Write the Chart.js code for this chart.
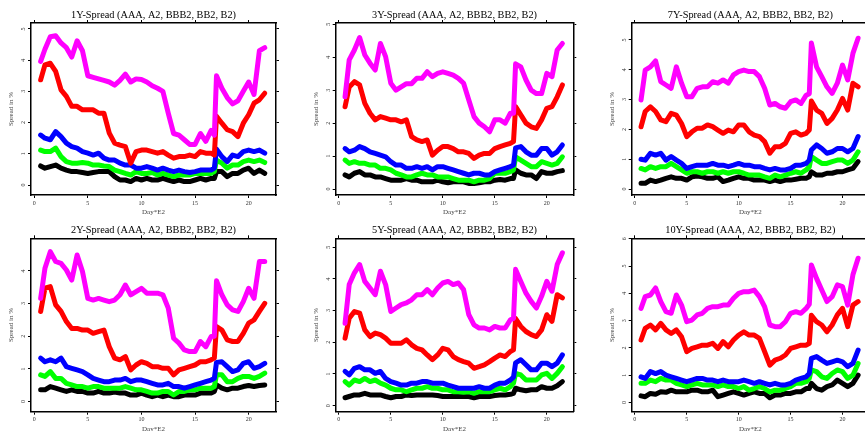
<!DOCTYPE html>
<html>
<head>
<meta charset="utf-8">
<title>Spreads AAA, A2, BBB2, BB2, B2</title>
<script src="https://cdn.jsdelivr.net/npm/chart.js"></script>
<style>
  body { margin: 0; width: 865px; height: 431px; overflow: hidden; background: #fff; position: relative; }
  canvas { position: absolute; }
</style>
</head>
<body>
<canvas id="c1Y"></canvas>
<canvas id="c3Y"></canvas>
<canvas id="c7Y"></canvas>
<canvas id="c2Y"></canvas>
<canvas id="c5Y"></canvas>
<canvas id="c10Y"></canvas>
<script>
// x = Day*E2
const days = [0.6, 1, 1.5, 2, 2.5, 3, 3.5, 4, 4.5, 5, 5.5, 6, 6.5, 7, 7.5, 8, 8.5, 9, 9.5, 10, 10.5,
  11, 11.5, 12, 12.5, 13, 13.5, 14, 14.5, 15, 15.5, 16, 16.5, 16.8, 17, 17.5, 18, 18.5, 19, 19.5, 20, 20.5, 21, 21.5];
const xTicks = [0, 5, 10, 15, 20];
const ratings = ['AAA', 'A2', 'BBB2', 'BB2', 'B2'];
const colors = ['#000000', '#00ff00', '#0000ff', '#ff0000', '#ff00ff'];

// 1Y
const AAA_1Y = [0.61,0.54,0.59,0.64,0.54,0.48,0.43,0.43,0.4,0.37,0.4,0.43,0.43,0.43,0.27,0.16,0.16,0.11,0.21,0.16,0.21,0.16,0.16,0.21,0.16,0.11,0.16,0.11,0.11,0.16,0.21,0.16,0.21,0.21,0.43,0.43,0.27,0.37,0.37,0.48,0.54,0.37,0.48,0.37];
const A2_1Y = [1.12,1.07,1.07,1.18,0.91,0.75,0.7,0.7,0.72,0.7,0.64,0.64,0.61,0.59,0.48,0.43,0.37,0.32,0.43,0.37,0.37,0.4,0.32,0.37,0.32,0.27,0.32,0.32,0.32,0.37,0.37,0.37,0.37,0.43,0.8,0.7,0.54,0.64,0.64,0.75,0.8,0.75,0.8,0.72];
const BBB2_1Y = [1.6,1.5,1.45,1.71,1.55,1.34,1.23,1.18,1.07,1.02,0.96,1.02,0.86,0.8,0.8,0.7,0.64,0.64,0.54,0.54,0.59,0.54,0.48,0.54,0.48,0.43,0.48,0.43,0.4,0.43,0.48,0.48,0.48,0.54,1.15,0.91,0.75,0.96,0.91,1.07,1.12,1.07,1.12,1.02];
const BB2_1Y = [3.37,3.85,3.9,3.64,3.05,2.84,2.52,2.52,2.41,2.41,2.41,2.3,2.3,1.66,1.34,1.28,1.23,0.7,1.07,1.12,1.12,1.07,1.02,1.07,0.96,0.86,0.91,0.91,0.96,0.91,1.07,1.02,1.02,0.96,2.2,1.98,1.77,1.71,1.55,1.98,2.25,2.62,2.73,2.94];
const B2_1Y = [3.96,4.35,4.75,4.78,4.55,4.4,4.1,4.62,4.3,3.5,3.45,3.4,3.35,3.3,3.2,3.35,3.55,3.3,3.4,3.38,3.3,3.18,3.1,3.0,2.3,1.65,1.6,1.45,1.3,1.3,1.65,1.4,1.75,1.6,3.5,3.1,2.8,2.6,2.7,3.0,3.3,2.9,4.3,4.4];

// 2Y
const AAA_2Y = [0.36,0.36,0.46,0.41,0.36,0.31,0.36,0.31,0.31,0.26,0.26,0.31,0.26,0.26,0.29,0.26,0.26,0.2,0.2,0.26,0.2,0.15,0.2,0.15,0.2,0.15,0.15,0.2,0.2,0.2,0.26,0.26,0.26,0.31,0.51,0.41,0.36,0.41,0.41,0.46,0.49,0.46,0.49,0.51];
const A2_2Y = [0.82,0.77,0.92,0.71,0.71,0.56,0.51,0.46,0.46,0.41,0.46,0.46,0.41,0.41,0.41,0.41,0.46,0.41,0.36,0.36,0.31,0.26,0.26,0.31,0.31,0.2,0.31,0.31,0.36,0.36,0.41,0.41,0.41,0.46,0.82,0.82,0.61,0.61,0.71,0.77,0.77,0.71,0.77,0.87];
const BBB2_2Y = [1.33,1.22,1.28,1.22,1.33,1.07,1.02,0.97,0.92,0.82,0.71,0.66,0.61,0.61,0.66,0.66,0.71,0.61,0.66,0.66,0.61,0.56,0.51,0.51,0.56,0.46,0.46,0.41,0.46,0.51,0.56,0.61,0.66,0.71,1.2,1.22,1.07,0.92,0.97,1.17,1.22,1.02,1.07,1.17];
const BB2_2Y = [2.76,3.47,3.52,2.96,2.76,2.45,2.24,2.24,2.19,2.19,2.09,2.14,2.19,1.68,1.33,1.28,1.38,0.97,1.12,1.22,1.17,1.07,1.07,1.02,1.02,0.82,0.97,1.02,1.07,1.12,1.22,1.22,1.28,1.33,2.3,2.19,1.89,1.84,1.84,2.09,2.4,2.5,2.76,3.01];
const B2_2Y = [3.16,4.08,4.59,4.29,4.23,4.03,3.72,4.49,3.98,3.16,3.11,3.16,3.11,3.06,3.11,3.27,3.57,3.27,3.37,3.47,3.32,3.32,3.32,3.27,2.86,1.94,1.79,1.58,1.53,1.53,1.84,1.68,1.99,2.0,3.7,3.27,2.96,2.81,2.76,3.06,3.47,3.16,4.29,4.29];

// 3Y
const AAA_3Y = [0.43,0.37,0.48,0.53,0.43,0.43,0.37,0.37,0.32,0.27,0.27,0.27,0.32,0.27,0.27,0.22,0.22,0.22,0.27,0.22,0.19,0.22,0.22,0.22,0.17,0.17,0.19,0.22,0.22,0.27,0.29,0.27,0.32,0.32,0.58,0.48,0.43,0.43,0.32,0.53,0.48,0.48,0.53,0.56];
const A2_3Y = [0.88,0.78,0.83,0.78,0.78,0.73,0.73,0.63,0.63,0.58,0.48,0.43,0.37,0.37,0.43,0.48,0.43,0.43,0.37,0.37,0.37,0.32,0.27,0.27,0.27,0.22,0.27,0.27,0.32,0.48,0.48,0.48,0.53,0.58,0.98,0.88,0.78,0.68,0.68,0.83,0.78,0.73,0.78,0.98];
const BBB2_3Y = [1.23,1.13,1.18,1.29,1.23,1.13,1.08,1.03,0.98,0.83,0.73,0.73,0.63,0.63,0.68,0.63,0.68,0.58,0.68,0.68,0.63,0.58,0.53,0.48,0.43,0.48,0.48,0.43,0.43,0.53,0.58,0.63,0.68,0.73,1.25,1.29,1.13,1.03,1.03,1.23,1.23,1.03,1.13,1.34];
const BB2_3Y = [2.5,3.1,3.26,3.16,2.6,2.3,2.1,2.2,2.15,2.1,2.1,2.04,2.1,1.59,1.49,1.44,1.49,1.03,1.18,1.29,1.29,1.23,1.13,1.13,1.08,0.93,1.03,1.08,1.08,1.23,1.29,1.34,1.39,1.44,2.5,2.25,2.0,1.89,1.84,2.1,2.45,2.5,2.8,3.16];
const B2_3Y = [2.8,3.92,4.22,4.6,4.07,3.82,3.61,4.42,4.02,3.21,3.0,3.1,3.2,3.2,3.36,3.36,3.56,3.41,3.51,3.56,3.51,3.46,3.36,3.21,2.7,2.2,2.0,1.89,1.74,2.1,2.1,2.0,2.3,2.3,3.8,3.71,3.31,3.0,2.9,2.9,3.51,3.41,4.22,4.42];

// 5Y
const AAA_5Y = [0.25,0.29,0.34,0.34,0.39,0.34,0.34,0.34,0.29,0.25,0.29,0.29,0.34,0.32,0.34,0.34,0.34,0.34,0.32,0.29,0.29,0.29,0.29,0.29,0.29,0.25,0.29,0.29,0.29,0.32,0.34,0.34,0.36,0.39,0.55,0.5,0.47,0.5,0.5,0.6,0.55,0.55,0.63,0.76];
const A2_5Y = [0.76,0.65,0.81,0.76,0.86,0.76,0.81,0.71,0.65,0.55,0.5,0.5,0.44,0.5,0.55,0.55,0.6,0.55,0.55,0.5,0.5,0.44,0.44,0.42,0.44,0.39,0.44,0.44,0.44,0.5,0.55,0.5,0.6,0.71,1.02,0.97,0.81,0.81,0.81,0.97,1.02,0.86,1.02,1.23];
const BBB2_5Y = [1.08,0.97,1.18,1.23,1.13,1.13,1.02,1.08,0.86,0.76,0.71,0.65,0.65,0.71,0.71,0.76,0.76,0.71,0.71,0.71,0.65,0.6,0.55,0.55,0.55,0.55,0.6,0.55,0.55,0.65,0.71,0.71,0.81,0.9,1.35,1.45,1.29,1.13,1.13,1.34,1.34,1.23,1.34,1.6];
const BB2_5Y = [2.13,2.76,2.97,2.92,2.39,2.18,2.29,2.24,2.13,1.97,1.97,1.97,2.08,1.92,1.81,1.76,1.6,1.45,1.6,1.81,1.76,1.55,1.45,1.39,1.34,1.18,1.23,1.29,1.39,1.5,1.6,1.55,1.71,1.76,2.75,2.5,2.34,2.24,2.18,2.39,2.87,2.66,3.5,3.4];
const B2_5Y = [2.6,3.82,4.19,4.45,3.92,3.71,3.5,4.24,3.82,2.97,3.08,3.19,3.24,3.34,3.5,3.5,3.66,3.5,3.71,3.87,3.92,3.82,3.87,3.66,2.87,2.55,2.45,2.45,2.39,2.5,2.45,2.45,2.71,2.75,4.3,3.92,3.55,3.29,3.08,3.45,3.92,3.61,4.45,4.82];

// 7Y
const AAA_7Y = [0.19,0.19,0.3,0.25,0.3,0.36,0.41,0.36,0.36,0.3,0.41,0.44,0.41,0.36,0.36,0.41,0.25,0.3,0.36,0.41,0.36,0.36,0.3,0.3,0.3,0.25,0.3,0.25,0.3,0.3,0.33,0.36,0.36,0.41,0.58,0.47,0.47,0.53,0.53,0.58,0.58,0.64,0.69,0.92];
const A2_7Y = [0.69,0.64,0.75,0.69,0.75,0.75,0.86,0.75,0.64,0.53,0.58,0.58,0.53,0.58,0.58,0.53,0.58,0.53,0.58,0.58,0.53,0.47,0.47,0.47,0.41,0.36,0.47,0.41,0.47,0.53,0.58,0.53,0.64,0.75,1.09,0.97,0.86,0.86,0.92,0.97,0.97,0.86,0.97,1.25];
const BBB2_7Y = [1.0,0.97,1.2,1.14,1.2,0.97,1.09,0.97,0.86,0.69,0.75,0.8,0.8,0.8,0.86,0.8,0.8,0.75,0.8,0.86,0.8,0.8,0.75,0.75,0.69,0.64,0.69,0.64,0.64,0.69,0.8,0.8,0.86,0.97,1.31,1.48,1.36,1.2,1.25,1.36,1.36,1.25,1.36,1.76];
const BB2_7Y = [2.09,2.6,2.76,2.6,2.32,2.26,2.54,2.48,2.2,1.76,1.92,2.04,2.04,2.15,2.09,1.98,1.87,1.98,1.92,2.15,2.15,1.92,1.81,1.76,1.59,1.2,1.42,1.42,1.53,1.87,1.92,1.81,1.87,1.98,2.95,2.65,2.54,2.2,2.37,2.65,3.04,2.65,3.55,3.43];
const B2_7Y = [2.99,3.99,4.1,4.3,3.6,3.49,3.38,4.1,3.55,3.1,3.1,3.38,3.43,3.43,3.6,3.55,3.66,3.55,3.83,3.94,3.99,3.94,3.94,3.77,3.38,2.82,2.87,2.76,2.71,2.93,2.99,2.87,3.15,3.2,4.9,4.1,3.77,3.43,3.21,3.55,4.16,3.66,4.55,5.06];

// 10Y
const AAA_10Y = [0.24,0.21,0.33,0.3,0.39,0.37,0.45,0.39,0.39,0.39,0.45,0.45,0.39,0.39,0.45,0.21,0.27,0.33,0.39,0.33,0.27,0.33,0.39,0.33,0.33,0.17,0.27,0.27,0.33,0.33,0.39,0.39,0.51,0.51,0.7,0.51,0.45,0.58,0.64,0.82,0.7,0.58,0.7,1.0];
const A2_10Y = [0.7,0.7,0.82,0.76,0.88,0.82,0.82,0.7,0.64,0.58,0.64,0.7,0.64,0.64,0.64,0.58,0.64,0.58,0.58,0.51,0.58,0.45,0.51,0.58,0.51,0.39,0.45,0.45,0.51,0.58,0.7,0.7,0.76,0.88,1.19,1.13,0.94,0.88,1.06,1.19,1.13,0.88,1.0,1.43];
const BBB2_10Y = [0.94,0.88,1.13,1.06,1.13,1.0,0.94,0.88,0.82,0.76,0.82,0.88,0.88,0.82,0.82,0.76,0.82,0.76,0.76,0.76,0.82,0.76,0.7,0.76,0.7,0.64,0.7,0.64,0.64,0.7,0.82,0.88,0.94,1.06,1.62,1.68,1.55,1.43,1.49,1.55,1.49,1.31,1.43,1.92];
const BB2_10Y = [2.29,2.72,2.84,2.66,2.9,2.66,2.53,2.66,2.41,1.86,1.98,2.04,2.1,2.1,2.17,1.98,2.23,2.04,2.29,2.47,2.59,2.47,2.47,2.35,1.86,1.37,1.55,1.62,1.74,1.98,2.04,2.1,2.1,2.17,3.2,2.96,2.84,2.59,2.84,3.21,3.45,2.78,3.57,3.7];
const B2_10Y = [3.45,3.88,3.94,4.2,3.7,3.33,3.27,3.94,3.57,2.96,3.02,3.21,3.27,3.45,3.51,3.51,3.57,3.57,3.82,4.0,4.06,4.06,4.12,3.88,3.51,2.84,2.78,2.78,2.96,3.27,3.33,3.27,3.45,3.6,5.04,4.55,4.12,3.7,3.88,4.31,4.25,3.57,4.68,5.29];

const yTicks5 = [0, 1, 2, 3, 4, 5];
const yTicks4 = [0, 1, 2, 3, 4];
const yTicks6 = [0, 1, 2, 3, 4, 5, 6];

const FONT = "'Liberation Serif', 'Times New Roman', serif";

// canvas box [left, top, width, height] and plot box [left, top, right, bottom] in page pixels
function makePanel(id, title, canvasBox, plot, yMin, yMax, yTicks, series) {
  const [cl, ct, cw, ch] = canvasBox;
  const wl = plot[0] - cl, wr = cl + cw - plot[2];
  const titleH = 9 + 10.3 * 1.2;
  const ht = plot[1] - ct - titleH, hb = ct + ch - plot[3];
  const cv = document.getElementById(id);
  cv.width = cw; cv.height = ch;
  cv.style.left = cl + 'px'; cv.style.top = ct + 'px';

  // B2 first so that it is drawn on top
  const datasets = [];
  for (let k = series.length - 1; k >= 0; k--) {
    datasets.push({
      label: ratings[k],
      data: days.map((d, i) => ({x: d, y: series[k][i]})),
      borderColor: colors[k],
      borderWidth: 5,
      borderJoinStyle: 'round',
      borderCapStyle: 'round',
      pointRadius: 0,
      tension: 0,
      fill: false
    });
  }
  const setX = s => { s.ticks = xTicks.map(v => ({value: v})); };
  const setY = s => { s.ticks = yTicks.map(v => ({value: v})); };
  const edge = {display: true, color: '#000', width: 1.5};
  const outerTicks = {drawOnChartArea: false, drawTicks: true, tickLength: 3, tickWidth: 1, tickColor: '#000'};

  new Chart(cv, {
    type: 'line',
    data: {datasets},
    options: {
      responsive: false,
      animation: false,
      layout: {padding: 0},
      plugins: {
        legend: {display: false},
        tooltip: {enabled: false},
        title: {
          display: true, text: title, fullSize: false,
          color: '#000', font: {family: FONT, size: 10.3, weight: 'normal', lineHeight: 1.2},
          padding: {top: 9, bottom: 0}
        }
      },
      scales: {
        x: {
          type: 'linear', position: 'bottom', min: -0.3, max: 22.55,
          afterBuildTicks: setX, afterFit: s => { s.height = hb; },
          grid: outerTicks, border: edge,
          ticks: {font: {family: FONT, size: 6}, color: '#333', padding: 1.5, maxRotation: 0},
          title: {display: true, text: 'Day*E2', color: '#444', font: {family: FONT, size: 7, lineHeight: 1.2}, padding: 0}
        },
        xTop: {
          type: 'linear', position: 'top', min: -0.3, max: 22.55,
          afterBuildTicks: setX, afterFit: s => { s.height = ht; },
          grid: outerTicks, border: edge, ticks: {display: false}
        },
        y: {
          type: 'linear', position: 'left', min: yMin, max: yMax,
          afterBuildTicks: setY, afterFit: s => { s.width = wl; },
          grid: outerTicks, border: edge,
          ticks: {font: {family: FONT, size: 6}, color: '#333', padding: 3.2, minRotation: 90, maxRotation: 90, crossAlign: 'center'},
          title: {display: true, text: 'Spread in %', color: '#444', font: {family: FONT, size: 7, lineHeight: 1.2}, padding: {top: 7, bottom: 0}}
        },
        yRight: {
          type: 'linear', position: 'right', min: yMin, max: yMax,
          afterBuildTicks: setY, afterFit: s => { s.width = wr; },
          grid: outerTicks, border: edge, ticks: {display: false}
        }
      }
    }
  });
}

const TITLE = ' (AAA, A2, BBB2, BB2, B2)';
makePanel('c1Y', '1Y-Spread' + TITLE, [0, 0, 280, 216], [31, 23, 276, 195], -0.32, 5.19, yTicks5,
  [AAA_1Y, A2_1Y, BBB2_1Y, BB2_1Y, B2_1Y]);
makePanel('c3Y', '3Y-Spread' + TITLE, [305, 0, 273, 216], [335.7, 23, 573.3, 195], -0.18, 5.04, yTicks5,
  [AAA_3Y, A2_3Y, BBB2_3Y, BB2_3Y, B2_3Y]);
makePanel('c7Y', '7Y-Spread' + TITLE, [601, 0, 272, 216], [631.7, 23, 869, 195], -0.2, 5.57, yTicks5,
  [AAA_7Y, A2_7Y, BBB2_7Y, BB2_7Y, B2_7Y]);
makePanel('c2Y', '2Y-Spread' + TITLE, [0, 215, 280, 218], [31, 238.3, 276, 411.7], -0.31, 5.0, yTicks4,
  [AAA_2Y, A2_2Y, BBB2_2Y, BB2_2Y, B2_2Y]);
makePanel('c5Y', '5Y-Spread' + TITLE, [305, 215, 273, 218], [335.7, 238.3, 573.3, 411.7], -0.19, 5.28, yTicks5,
  [AAA_5Y, A2_5Y, BBB2_5Y, BB2_5Y, B2_5Y]);
makePanel('c10Y', '10Y-Spread' + TITLE, [601, 215, 272, 218], [631.7, 238.3, 869, 411.7], -0.34, 6.02, yTicks6,
  [AAA_10Y, A2_10Y, BBB2_10Y, BB2_10Y, B2_10Y]);
</script>
</body>
</html>
